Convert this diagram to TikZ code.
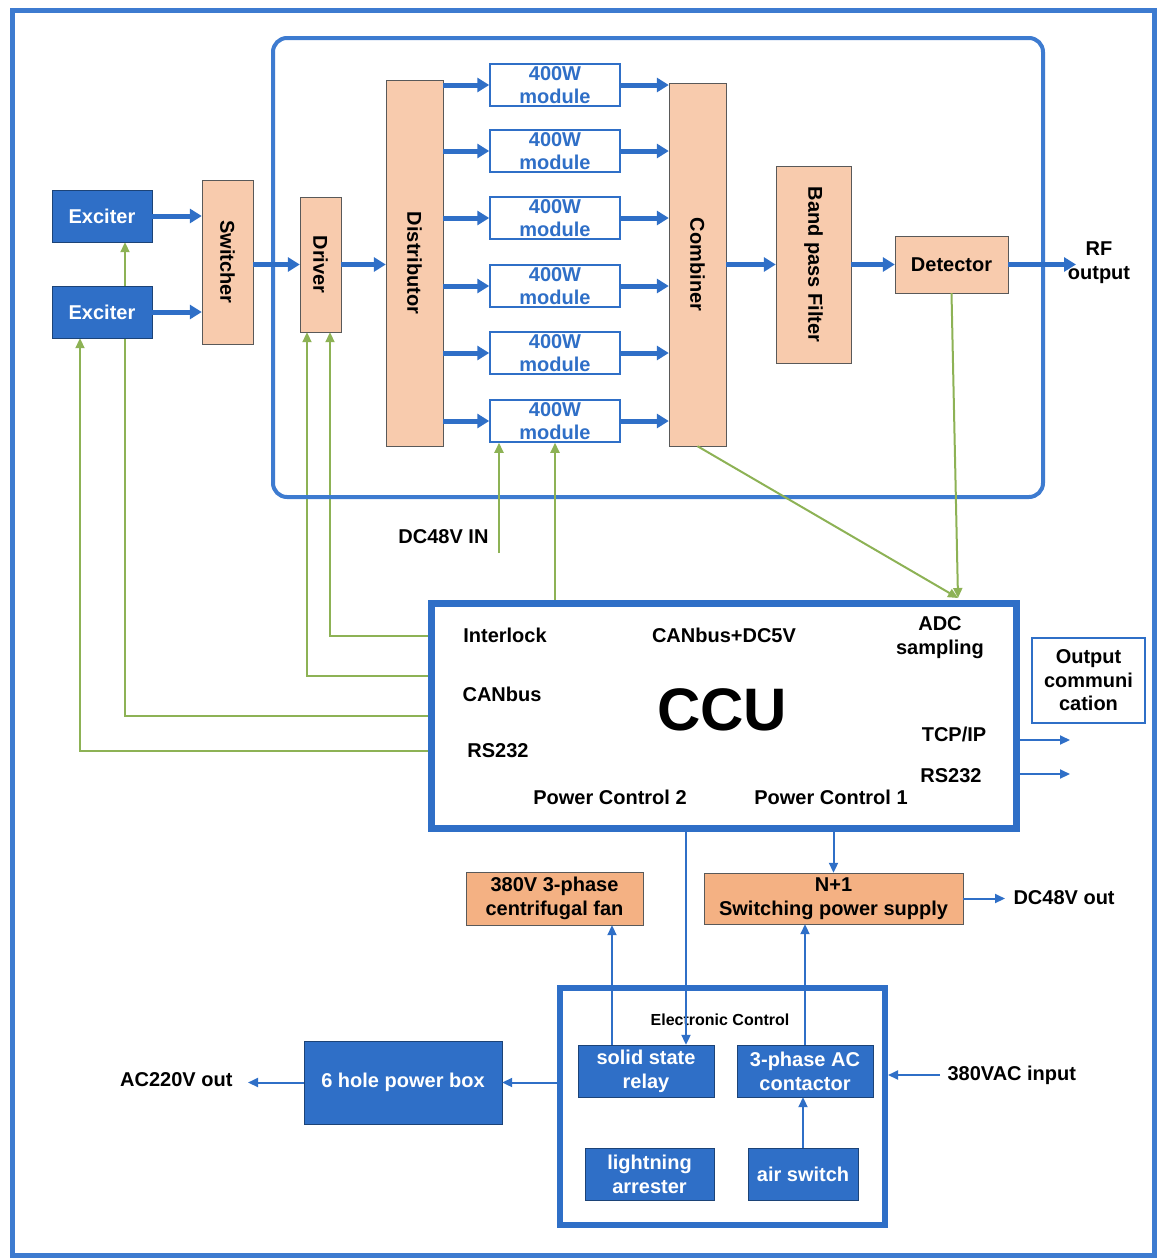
\documentclass[tikz,border=0pt]{standalone}
\usepackage{fontspec}
\setmainfont{Liberation Sans}
\usetikzlibrary{arrows.meta,backgrounds}
\definecolor{frameblue}{HTML}{3D7BD0}
\definecolor{boxblue}{HTML}{2F6FC7}
\definecolor{peach}{HTML}{F8CBAD}
\definecolor{fanorange}{HTML}{F4B183}
\definecolor{ctlgreen}{HTML}{8DB255}

\begin{document}
\begin{tikzpicture}[x=1pt,y=-1pt,
  font=\bfseries\fontsize{20}{24}\selectfont,
  bluebox/.style={draw=boxblue!60!black,fill=boxblue,text=white,inner sep=0,align=center},
  peachbox/.style={draw=black!65,fill=peach,inner sep=0,align=center},
  orangebox/.style={draw=black!65,fill=fanorange,inner sep=0,align=center},
  modbox/.style={draw=boxblue,line width=1.5pt,fill=white,text=boxblue,inner sep=0,align=center,
    minimum width=130,minimum height=42,font=\bfseries\fontsize{20}{23}\selectfont},
  rf/.style={boxblue,line width=5pt,-{Triangle[length=12pt,width=14pt]}},
  ctl/.style={ctlgreen,line width=2pt,-{Triangle[length=10pt,width=9pt]}},
  pwr/.style={boxblue,line width=2pt,-{Triangle[length=10pt,width=9pt]}}]

  \useasboundingbox (0,0) rectangle (1158,1258);
  \draw[frameblue,line width=5pt] (12,10) rectangle (1154,1255);
  \draw[frameblue,line width=4pt,rounded corners=14pt] (273,38) rectangle (1043,497);

  % RF chain
  \node[bluebox,minimum width=100,minimum height=52] (exa) at (102,216) {Exciter};
  \node[bluebox,minimum width=100,minimum height=52] (exb) at (102,312) {Exciter};
  \node[peachbox,minimum width=51,minimum height=164] (sw) at (227.5,262) {};
  \node[rotate=-90] (swt) at (sw) {Switcher};
  \node[peachbox,minimum width=41,minimum height=135] (drv) at (320.5,264.5) {};
  \node[rotate=-90] (drvt) at (drv) {Driver};
  \node[peachbox,minimum width=57,minimum height=366] (dis) at (414.5,263) {};
  \node[rotate=-90] (dist) at (dis) {Distributor};
  \foreach \i/\y in {1/85,2/151,3/218,4/286,5/353,6/421}
    \node[modbox] (m\i) at (555,\y) {400W\\module};
  \node[peachbox,minimum width=57,minimum height=363] (cmb) at (697.5,264.5) {};
  \node[rotate=-90] (cmbt) at (cmb) {Combiner};
  \node[peachbox,minimum width=75,minimum height=197] (bpf) at (813.5,264.5) {};
  \node[rotate=-90] (bpft) at (bpf) {Band pass Filter};
  \node[peachbox,minimum width=113,minimum height=57] (det) at (951.5,264.5) {Detector};
  \node[align=center] (rfo) at (1099,263) {RF\\output};
  \coordinate (rfend) at (1076,264.5);

  \draw[rf] (exa.east) -- (exa.east -| sw.west);
  \draw[rf] (exb.east) -- (exb.east -| sw.west);
  \draw[rf] (sw.east |- drv.west) -- (drv.west);
  \draw[rf] (drv.east) -- (drv.east -| dis.west);
  \foreach \i in {1,...,6}{
    \draw[rf] (dis.east |- m\i.west) -- (m\i.west);
    \draw[rf] (m\i.east) -- (m\i.east -| cmb.west);
  }
  \draw[rf] (cmb.east |- bpf.west) -- (bpf.west);
  \draw[rf] (bpf.east) -- (det.west);
  \draw[rf] (det.east) -- (rfend);

  % CCU
  \node[draw=boxblue,line width=7pt,fill=white,minimum width=585,minimum height=225] (ccu) at (723.5,715.5) {};
  \node (ilk) at (505,635) {Interlock};
  \node (cdc) at (724,635) {CANbus+DC5V};
  \node[align=center] (adcl) at (940,638) {ADC\\sampling};
  \node (can) at (502,694) {CANbus};
  \node[font=\bfseries\fontsize{60}{70}\selectfont] (ccut) at (722,710) {CCU};
  \node (rsa) at (498,751) {RS232};
  \node (tcp) at (954,734) {TCP/IP};
  \node (rsb) at (951,776) {RS232};
  \node (pc2) at (610,797) {Power Control 2};
  \node (pc1) at (831,797) {Power Control 1};
  \node[draw=boxblue,line width=1.5pt,fill=white,minimum width=113,minimum height=85,align=center,
    font=\bfseries\fontsize{20}{23.5}\selectfont] (occ) at (1088.5,680.5) {Output\\communi\\cation};
  \coordinate (tcpo) at (1070,740);
  \coordinate (rso) at (1070,774);
  \draw[pwr] (ccu.east |- tcpo) -- (tcpo);
  \draw[pwr] (ccu.east |- rso) -- (rso);

  % control lines
  \begin{pgfonlayer}{background}
    \draw[ctl] ([yshift=79.5]ccu.west) -| ([xshift=9.5]drv.south);
    \draw[ctl] ([yshift=39.5]ccu.west) -| ([xshift=-13.5]drv.south);
    \draw[ctl] (ccu.west) -| ([xshift=23]exa.south);
    \draw[ctl] ([yshift=-35.5]ccu.west) -| ([xshift=-22]exb.south);
  \end{pgfonlayer}
  \coordinate (dcin) at (499,553);
  \node[left] (dcint) at (492,537) {DC48V IN};
  \draw[ctl] (dcin) -- (dcin |- m6.south);
  \draw[ctl] (m6.south |- ccu.north) -- (m6.south);
  \coordinate (adc) at (958,598);
  \draw[ctl] (cmb.south) -- (adc);
  \draw[ctl] (det.south) -- (adc);

  % power part
  \node[orangebox,minimum width=177,minimum height=53] (fan) at (554.5,898.5) {380V 3-phase\\centrifugal fan};
  \node[orangebox,minimum width=259,minimum height=51] (psu) at (833.5,898.5) {N+1\\Switching power supply};
  \draw[pwr] (ccu.south -| psu.north) -- (psu.north);
  \coordinate (dco) at (1005,898.5);
  \draw[pwr] (psu.east) -- (dco);
  \node[right] (dcot) at (1010,898) {DC48V out};

  \node[draw=boxblue,line width=6pt,fill=white,minimum width=325,minimum height=237] (ec) at (722.5,1106.5) {};
  \node[font=\bfseries\fontsize{16}{18}\selectfont] (ect) at (720,1020) {Electronic Control};
  \node[bluebox,minimum width=136,minimum height=52] (ssr) at (646,1071) {solid state\\relay};
  \node[bluebox,minimum width=136,minimum height=52] (ctr) at (805,1071) {3-phase AC\\contactor};
  \node[bluebox,minimum width=129,minimum height=52] (lar) at (649.5,1174) {lightning\\arrester};
  \node[bluebox,minimum width=110,minimum height=52] (asw) at (803,1174) {air switch};
  \node[bluebox,minimum width=198,minimum height=83] (hpb) at (403,1082.5) {6 hole power box};

  \draw[pwr] ([xshift=-34]ssr.north) -- ([xshift=-34]ssr.north |- fan.south);
  \draw[pwr] ([xshift=40]ssr.north |- ccu.south) -- ([xshift=40]ssr.north);
  \draw[pwr] (ctr.north) -- (ctr.north |- psu.south);
  \draw[pwr] (asw.north) -- (asw.north |- ctr.south);
  \coordinate (acin) at (940,1075);
  \draw[pwr] (acin) -- (acin -| ec.east);
  \node[right] (acint) at (944,1075) {380VAC input};
  \draw[pwr] (ec.west |- hpb.east) -- (hpb.east);
  \coordinate (acout) at (248,1082.5);
  \draw[pwr] (hpb.west) -- (acout);
  \node[left] (acoutt) at (236,1080) {AC220V out};
\end{tikzpicture}
\end{document}
